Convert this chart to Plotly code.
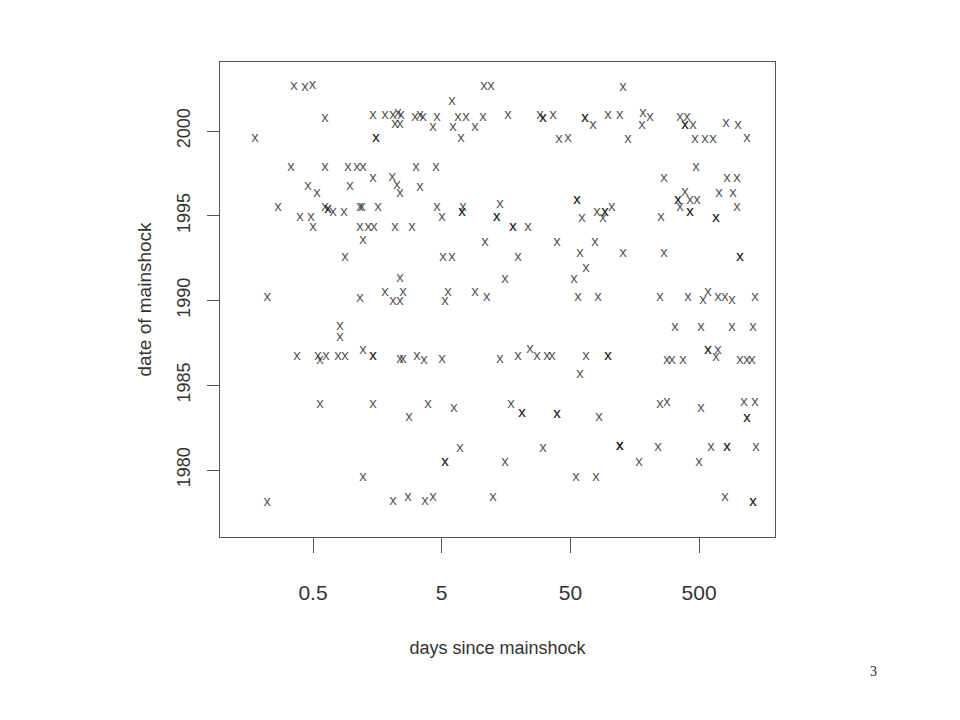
import plotly.graph_objects as go

# days since mainshock (x) and date of mainshock (y)
days = [
    0.356, 0.433, 0.496, 0.62, 0.177, 0.337, 0.62, 0.935, 1.10, 1.22,
    0.457, 0.537, 0.97, 0.267, 0.62, 0.654, 0.654, 0.715, 0.87, 1.16,
    0.396, 0.482, 0.50, 1.16, 1.22, 0.887, 0.22, 1.16,
    10.66, 12.1, 6.01, 1.46, 1.81, 2.09, 2.29, 2.41, 3.10, 3.39,
    3.58, 4.60, 6.69, 7.73, 10.47, 2.17, 2.37, 4.28, 6.12, 9.07,
    1.54, 1.54, 7.06, 3.16, 4.52, 1.46, 2.06, 2.25, 2.37, 3.39,
    1.20, 1.60, 4.60, 5.03, 7.32, 7.19, 7.19, 14.2, 13.4, 13.4,
    1.34, 1.49, 2.17, 2.94, 10.85, 5.12, 6.01, 2.37, 15.5, 1.81,
    2.09, 2.50, 5.60, 5.31, 9.07, 11.2,
    128, 16.4, 29.0, 30.6, 30.6, 36.6, 64.9, 64.9, 74.9, 98,
    121, 183, 208, 180, 40.8, 47.9, 140, 56.3, 56.3, 61.5,
    80.5, 92.8, 92.8, 105, 89.6, 17.9, 17.9, 23.4, 39.4, 77.6,
    19.6, 59.4, 128, 66.1, 53.3, 57.3, 81.9,
    355, 403, 389, 389, 448, 809, 1003, 465, 556, 641,
    1178, 473, 267, 824, 985, 389, 714, 917, 343, 343,
    355, 425, 481, 425, 425, 985, 253, 676, 676, 267,
    1040, 1040, 248, 410, 536, 586, 701, 795, 900, 1360,
    0.81, 0.81, 0.375, 0.547, 0.567, 0.631, 0.782, 0.887, 1.22, 0.567,
    1.22, 0.22,
    2.37, 1.46, 1.46, 2.37, 2.50, 3.21, 3.64, 5.03, 14.2, 1.46,
    2.79, 3.91, 6.23, 6.94, 5.31, 5.31, 15.5, 2.09, 2.74, 3.71,
    4.28, 12.5,
    19.6, 24.3, 27.5, 32.9, 36.0, 66.1, 98, 98, 59.4, 17.3,
    21.0, 21.0, 39.4, 39.4, 83.4, 30.6, 121, 121, 121, 171,
    55.3, 79.1,
    325, 517, 900, 1311, 282, 308, 375, 586, 586, 701,
    676, 1040, 1178, 1288, 248, 282, 517, 1117, 1360, 1178,
    1178, 240, 619, 824, 824, 1384, 499, 795, 1311, 1311,
]

year = [
    2002.65, 2002.60, 2002.71, 2000.77, 1999.59, 1997.88, 1997.88, 1997.88, 1997.88, 1997.88,
    1996.76, 1996.34, 1996.76, 1995.52, 1995.52, 1995.40, 1995.40, 1995.22, 1995.22, 1995.52,
    1994.93, 1994.93, 1994.34, 1994.34, 1993.57, 1992.57, 1990.21, 1990.15,
    2002.65, 2002.65, 2001.77, 2000.94, 2000.94, 2000.94, 2001.06, 2000.94, 2000.83, 2000.94,
    2000.83, 2000.83, 2000.83, 2000.83, 2000.83, 2000.41, 2000.41, 2000.24, 2000.24, 2000.24,
    1999.59, 1999.59, 1999.59, 1997.88, 1997.88, 1997.23, 1997.29, 1996.81, 1996.34, 1996.70,
    1995.52, 1995.52, 1995.52, 1994.93, 1995.52, 1995.22, 1995.22, 1995.69, 1994.93, 1994.93,
    1994.34, 1994.34, 1994.34, 1994.34, 1993.45, 1992.57, 1992.57, 1991.33, 1991.24, 1990.50,
    1989.97, 1990.50, 1990.50, 1989.97, 1990.50, 1990.21,
    2002.60, 2000.94, 2000.94, 2000.77, 2000.77, 2000.94, 2000.77, 2000.77, 2000.35, 2000.94,
    2000.94, 2001.06, 2000.83, 2000.35, 1999.53, 1999.59, 1999.53, 1995.93, 1995.93, 1994.87,
    1995.22, 1995.22, 1995.22, 1995.52, 1994.87, 1994.34, 1994.34, 1994.34, 1993.45, 1993.45,
    1992.57, 1992.80, 1992.80, 1991.92, 1991.27, 1990.21, 1990.21,
    2000.83, 2000.83, 2000.35, 2000.35, 2000.35, 2000.47, 2000.35, 1999.53, 1999.53, 1999.53,
    1999.59, 1997.88, 1997.23, 1997.23, 1997.23, 1996.40, 1996.34, 1996.34, 1995.93, 1995.93,
    1995.52, 1995.93, 1995.93, 1995.22, 1995.22, 1995.52, 1994.93, 1994.87, 1994.87, 1992.80,
    1992.57, 1992.57, 1990.21, 1990.21, 1990.03, 1990.50, 1990.21, 1990.21, 1990.03, 1990.21,
    1988.50, 1987.85, 1986.73, 1986.73, 1986.49, 1986.73, 1986.73, 1986.73, 1987.08, 1983.89,
    1979.59, 1978.11,
    1989.97, 1986.73, 1986.73, 1986.55, 1986.55, 1986.73, 1986.49, 1986.55, 1986.55, 1983.89,
    1983.13, 1983.89, 1983.66, 1981.30, 1980.47, 1980.47, 1980.47, 1978.17, 1978.41, 1978.17,
    1978.41, 1978.41,
    1986.73, 1987.14, 1986.73, 1986.73, 1986.73, 1986.73, 1986.73, 1986.73, 1985.66, 1983.89,
    1983.36, 1983.36, 1983.30, 1983.30, 1983.13, 1981.30, 1981.42, 1981.42, 1981.42, 1980.47,
    1979.59, 1979.59,
    1988.44, 1988.44, 1988.44, 1988.44, 1986.49, 1986.49, 1986.49, 1987.08, 1987.08, 1987.08,
    1986.67, 1986.49, 1986.49, 1986.49, 1983.89, 1984.01, 1983.66, 1984.01, 1984.01, 1983.07,
    1983.07, 1981.36, 1981.36, 1981.36, 1981.36, 1981.36, 1980.47, 1978.41, 1978.11, 1978.11,
]

x_tick_vals = [0.5, 5, 50, 500]
x_tick_text = ["0.5", "5", "50", "500"]
y_tick_vals = [1980, 1985, 1990, 1995, 2000]
y_tick_text = ["1980", "1985", "1990", "1995", "2000"]

NARROW = "Liberation Sans Narrow, Arial Narrow, Liberation Sans, Arial, sans-serif"
SANS = "Liberation Sans, Arial, sans-serif"

fig = go.Figure()
fig.add_trace(go.Scatter(
    x=days, y=year, mode="text", text=["x"] * len(days),
    textposition="middle center",
    textfont=dict(family=NARROW, size=15, color="rgba(25,25,25,0.75)"),
    hoverinfo="x+y", showlegend=False,
))

axis_common = dict(
    showgrid=False, zeroline=False, showline=True, mirror=True,
    linecolor="#555555", linewidth=1, ticks="outside", tickcolor="#555555",
    tickwidth=1,
)

fig.update_layout(
    width=960, height=720,
    margin=dict(l=212, r=193, t=54, b=191),
    paper_bgcolor="white", plot_bgcolor="white",
    xaxis=dict(
        type="log", range=[-1.024, 3.289],
        tickvals=x_tick_vals, ticktext=x_tick_text,
        ticklen=15, ticklabelstandoff=22,
        tickfont=dict(family=NARROW, size=21, color="#333333"),
        title=dict(text="days since mainshock", standoff=38,
                   font=dict(family=SANS, size=18, color="#333333")),
        **axis_common,
    ),
    yaxis=dict(
        range=[1976.05, 2004.07],
        tickvals=y_tick_vals, ticktext=y_tick_text, tickangle=-90,
        ticklen=12, ticklabelstandoff=10,
        tickfont=dict(family=NARROW, size=18, color="#333333"),
        title=dict(text="date of mainshock", standoff=17,
                   font=dict(family=SANS, size=19, color="#333333")),
        **axis_common,
    ),
    annotations=[dict(
        text="3", xref="paper", yref="paper", x=1.1766, y=-0.284,
        showarrow=False, xanchor="center", yanchor="middle",
        font=dict(family="Liberation Serif, Times New Roman, serif", size=14, color="#222222"),
    )],
)

fig.write_html("out.html")
